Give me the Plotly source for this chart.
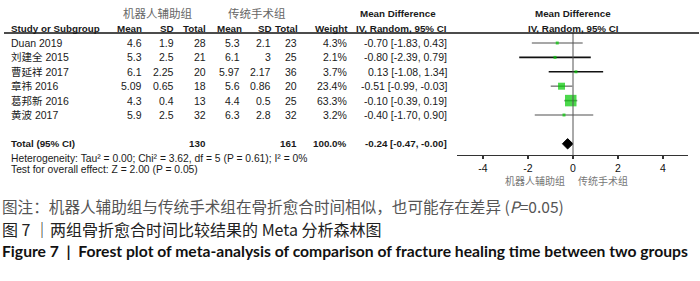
import plotly.graph_objects as go
import math

# ---------------- data ----------------
studies = ["Duan 2019", "刘建全 2015", "曹延祥 2017", "章祎 2016", "葛邦新 2016", "黄波 2017"]
mean_robot = ["4.6", "5.3", "6.1", "5.09", "4.3", "5.9"]
sd_robot = ["1.9", "2.5", "2.25", "0.65", "0.4", "2.5"]
n_robot = ["28", "21", "20", "18", "13", "32"]
mean_trad = ["5.3", "6.1", "5.97", "5.6", "4.4", "6.3"]
sd_trad = ["2.1", "3", "2.17", "0.86", "0.5", "2.8"]
n_trad = ["23", "25", "36", "20", "25", "32"]
weights = [4.3, 2.1, 3.7, 23.4, 63.3, 3.2]
md = [-0.70, -0.80, 0.13, -0.51, -0.10, -0.40]
ci_low = [-1.83, -2.39, -1.08, -0.99, -0.39, -1.70]
ci_high = [0.43, 0.79, 1.34, -0.03, 0.19, 0.90]
total_n_robot = "130"
total_n_trad = "161"
total_weight = "100.0%"
total_md = -0.24
total_low = -0.47
total_high = -0.00
heterogeneity = "Heterogeneity: Tau² = 0.00; Chi² = 3.62, df = 5 (P = 0.61); I² = 0%"
overall = "Test for overall effect: Z = 2.00 (P = 0.05)"
tick_vals = [-4, -2, 0, 2, 4]

# ---------------- styling ----------------
W, H = 700, 281
ci_colors = ["#8a8a8a", "#111111", "#111111", "#8a8a8a", "#8a8a8a", "#8a8a8a"]
green = "#00c800"
txt = "#1a1a1a"
TF = "Liberation Sans, Arial, Noto Sans CJK SC"
CJK = "Noto Sans CJK SC"
HB = 9.8  # bold header size

row_px0, row_step = 43.0, 14.4  # pixel of row 0, pixel per row
def px2row(py):
    return (py - row_px0) / row_step

zero_px, unit_px = 573.0, 22.5
x_dom = [457 / W, 688 / W]
x_rng = [(457 - zero_px) / unit_px, (688 - zero_px) / unit_px]

fig = go.Figure()

# CI lines and squares
for i in range(len(studies)):
    fig.add_trace(go.Scatter(x=[ci_low[i], ci_high[i]], y=[i, i], mode="lines",
                             line=dict(color=ci_colors[i], width=1.6),
                             hoverinfo="skip", showlegend=False))
sizes = [max(3, 11.5 * math.sqrt(w / max(weights))) for w in weights]
fig.add_trace(go.Scatter(x=md, y=list(range(len(studies))), mode="markers",
                         marker=dict(symbol="square", size=sizes, color=green,
                                     line=dict(width=0)),
                         hoverinfo="skip", showlegend=False))

# diamond for total
total_row = 7
hh = 0.36
fig.add_trace(go.Scatter(x=[total_low, total_md, total_high, total_md, total_low],
                         y=[total_row, total_row - hh, total_row, total_row + hh, total_row],
                         mode="lines", fill="toself", fillcolor="#000000",
                         line=dict(color="#000000", width=1),
                         hoverinfo="skip", showlegend=False))

shapes = []
# zero line
shapes.append(dict(type="line", xref="x", yref="y", x0=0, x1=0,
                   y0=px2row(33), y1=px2row(155), line=dict(color="#555555", width=1)))
# header underline
shapes.append(dict(type="line", xref="paper", yref="y", x0=4 / W, x1=699 / W,
                   y0=px2row(33), y1=px2row(33), line=dict(color="#111111", width=1.6)))

ann = []
def A(text, xpx, row, anchor="left", size=10.5, color=txt, bold=False, family=TF):
    if bold:
        text = "<b>" + text + "</b>"
    ann.append(dict(text=text, x=xpx / W, xref="paper", y=row, yref="y",
                    xanchor=anchor, yanchor="middle", showarrow=False,
                    font=dict(size=size, color=color, family=family)))

# header rows
A("机器人辅助组", 157, px2row(13), "center", 11.5, "#666666", family=CJK)
A("传统手术组", 257, px2row(13), "center", 11.5, "#666666", family=CJK)
A("Mean Difference", 398, px2row(13), "center", HB, txt, True)
A("Mean Difference", 573, px2row(13), "center", HB, txt, True)
hr = px2row(28)
A("Study or Subgroup", 9, hr, "left", HB, txt, True)
A("Mean", 144, hr, "right", HB, txt, True)
A("SD", 176, hr, "right", HB, txt, True)
A("Total", 208, hr, "right", HB, txt, True)
A("Mean", 244, hr, "right", HB, txt, True)
A("SD", 274, hr, "right", HB, txt, True)
A("Total", 300, hr, "right", HB, txt, True)
A("Weight", 350, hr, "right", HB, txt, True)
A("IV, Random, 95% CI", 449, hr, "right", HB, txt, True)
A("IV, Random, 95% CI", 573, hr, "center", HB, txt, True)

for i in range(len(studies)):
    A(studies[i], 9, i, "left")
    A(mean_robot[i], 144, i, "right")
    A(sd_robot[i], 176, i, "right")
    A(n_robot[i], 208, i, "right")
    A(mean_trad[i], 242, i, "right")
    A(sd_trad[i], 273, i, "right")
    A(n_trad[i], 299, i, "right")
    A(f"{weights[i]:.1f}%", 349, i, "right")
    A(f"{md[i]:.2f} [{ci_low[i]:.2f}, {ci_high[i]:.2f}]", 449, i, "right")

A("Total (95% CI)", 9, total_row, "left", HB, txt, True)
A(total_n_robot, 208, total_row, "right", HB, txt, True)
A(total_n_trad, 299, total_row, "right", HB, txt, True)
A(total_weight, 349, total_row, "right", HB, txt, True)
A(f"{total_md:.2f} [{total_low:.2f}, -{abs(total_high):.2f}]", 449, total_row, "right", HB, txt, True)
A(heterogeneity, 9, px2row(158), "left", 10.3)
A(overall, 9, px2row(169), "left", 10.3)

# axis side labels
A("机器人辅助组", 535, px2row(180), "center", 10, "#777777", family=CJK)
A("传统手术组", 603, px2row(180), "center", 10, "#777777", family=CJK)

# captions
def C(text, ypx, size, color, family, bold=False):
    if bold:
        text = "<b>" + text + "</b>"
    ann.append(dict(text=text, x=0, xref="paper", y=1 - ypx / H, yref="paper",
                    xanchor="left", yanchor="middle", showarrow=False,
                    font=dict(size=size, color=color, family=family)))

C("图注：机器人辅助组与传统手术组在骨折愈合时间相似，也可能存在差异 (<i>P</i>=0.05)", 206, 15.6, "#555555", CJK)
C("图 7 ｜两组骨折愈合时间比较结果的 Meta 分析森林图", 229, 16.0, "#222222", CJK)
C("Figure 7  |  Forest plot of meta-analysis of comparison of fracture healing time between two groups",
  251, 15.7, "#111111", "Lato, Noto Sans", True)

fig.update_layout(
    width=W, height=H, margin=dict(l=0, r=0, t=0, b=0),
    paper_bgcolor="white", plot_bgcolor="rgba(0,0,0,0)",
    shapes=shapes, annotations=ann, showlegend=False,
    xaxis=dict(domain=x_dom, range=x_rng, anchor="free", position=1 - 155 / H,
               showline=True, linecolor="#333333", linewidth=1,
               tickvals=tick_vals, ticktext=[str(v) for v in tick_vals],
               ticks="outside", ticklen=3, tickcolor="#333333", tickwidth=1.5,
               tickfont=dict(size=10.5, color="#111111", family=TF),
               showgrid=False, zeroline=False, fixedrange=True),
    yaxis=dict(domain=[0, 1], range=[px2row(H), px2row(0)], visible=False,
               showgrid=False, zeroline=False, fixedrange=True),
)

fig.write_html("out.html", config={"displayModeBar": False},
               post_script="document.body.style.margin='0px';")
